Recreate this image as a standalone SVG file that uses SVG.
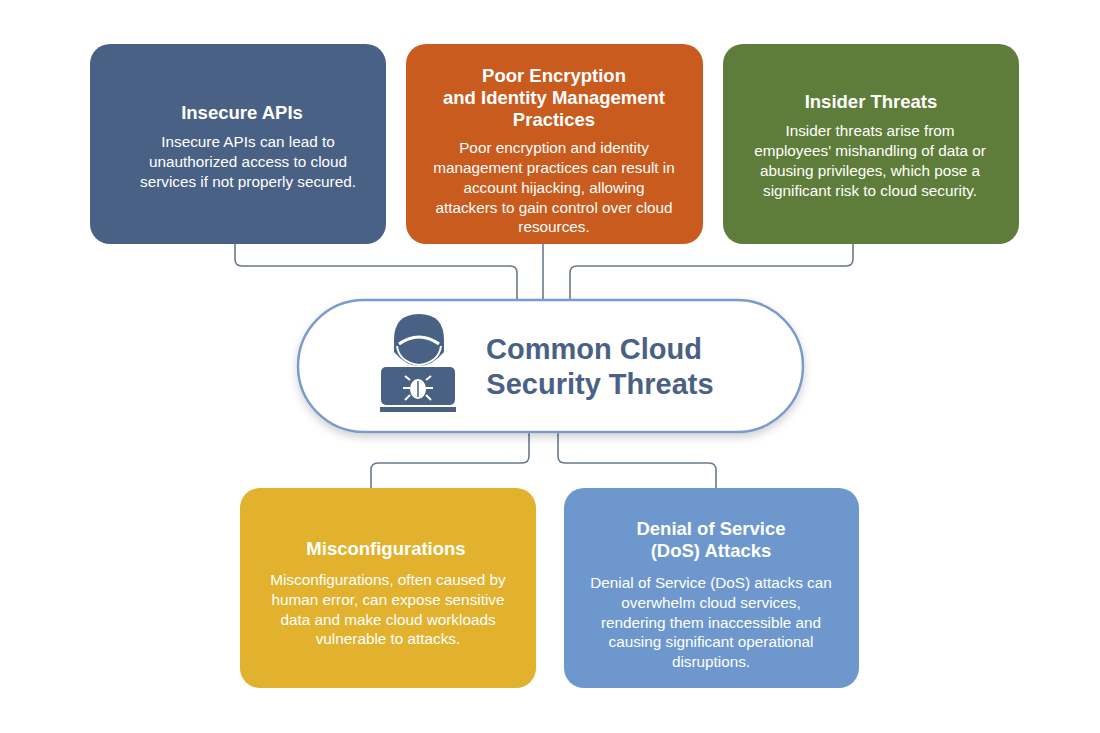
<svg xmlns="http://www.w3.org/2000/svg" width="1100" height="733" viewBox="0 0 1100 733">
<defs>
<style>
.box{stroke:none}
.t{font-family:"Liberation Sans",Arial,sans-serif;fill:#fff;text-anchor:middle}
.h{font-size:18.5px;font-weight:bold}
.b{font-size:15.3px}
.c{fill:none;stroke:#6b7a8c;stroke-width:1.6}
.m{font-family:"Liberation Sans",Arial,sans-serif;font-size:29px;font-weight:bold;fill:#4a6186;text-anchor:middle}
</style>
<filter id="sh" x="-10%" y="-20%" width="120%" height="150%"><feDropShadow dx="0" dy="4" stdDeviation="4" flood-color="#000" flood-opacity="0.18"/></filter>
</defs>
<rect width="1100" height="733" fill="#fff"/>
<g id="connectors">
<path class="c" d="M235 244V259Q235 266 242 266H510Q517 266 517 273V300"/>
<path class="c" d="M543 244V300"/>
<path class="c" d="M853 244V259Q853 266 846 266H577Q570 266 570 273V300"/>
<path class="c" d="M529 432V456Q529 463 522 463H378Q371 463 371 470V488"/>
<path class="c" d="M558 432V456Q558 463 565 463H709Q716 463 716 470V488"/>
</g>
<g id="insecure-apis">
<rect class="box" x="90" y="44" width="296" height="200" rx="20" fill="#4a6186"/>
<text class="t h" x="242" y="119">Insecure APIs</text>
<text class="t b"><tspan x="248" y="147">Insecure APIs can lead to</tspan><tspan x="248" y="167">unauthorized access to cloud</tspan><tspan x="248" y="187">services if not properly secured.</tspan></text>
</g>
<g id="poor-encryption">
<rect class="box" x="406" y="44" width="297" height="200" rx="20" fill="#c95b1e"/>
<text class="t h"><tspan x="554" y="82">Poor Encryption</tspan><tspan x="554" y="104">and Identity Management</tspan><tspan x="554" y="126">Practices</tspan></text>
<text class="t b"><tspan x="554" y="153">Poor encryption and identity</tspan><tspan x="554" y="173">management practices can result in</tspan><tspan x="554" y="193">account hijacking, allowing</tspan><tspan x="554" y="213">attackers to gain control over cloud</tspan><tspan x="554" y="232">resources.</tspan></text>
</g>
<g id="insider-threats">
<rect class="box" x="723" y="44" width="296" height="200" rx="20" fill="#5f7d3a"/>
<text class="t h" x="871" y="108">Insider Threats</text>
<text class="t b"><tspan x="870" y="136">Insider threats arise from</tspan><tspan x="870" y="156">employees' mishandling of data or</tspan><tspan x="870" y="176">abusing privileges, which pose a</tspan><tspan x="870" y="196">significant risk to cloud security.</tspan></text>
</g>
<g id="center">
<rect x="298" y="300" width="505" height="132" rx="66" fill="#fff" stroke="#7a9ccc" stroke-width="2.5" filter="url(#sh)"/>
<path d="M394 340Q394 314 419 314Q444 314 444 340V352Q432 366 419 366Q406 366 394 352Z" fill="#4a6186"/>
<path d="M399 344Q419 330 439 344" fill="none" stroke="#fff" stroke-width="3"/>
<path d="M397 346Q399 362 419 365Q439 362 441 346" fill="none" stroke="#fff" stroke-width="2"/>
<rect x="381" y="367" width="74" height="38" rx="5" fill="#4a6186"/>
<rect x="380" y="407" width="76" height="5" fill="#4a6186"/>
<g stroke="#fff" stroke-width="2" fill="none">
<ellipse cx="418" cy="389" rx="7" ry="9" fill="#fff"/>
<path d="M410 380l-5-4M426 380l5-4M410 388h-7M426 388h7M410 395l-5 5M426 395l5 5"/>
</g>
<line x1="418" y1="381" x2="418" y2="397" stroke="#4a6186" stroke-width="1.5"/>
<text class="m" x="594" y="359">Common Cloud</text>
<text class="m" x="600" y="394">Security Threats</text>
</g>
<g id="misconfigurations">
<rect class="box" x="240" y="488" width="296" height="200" rx="20" fill="#e2b22e"/>
<text class="t h" x="386" y="555">Misconfigurations</text>
<text class="t b"><tspan x="388" y="585">Misconfigurations, often caused by</tspan><tspan x="388" y="605">human error, can expose sensitive</tspan><tspan x="388" y="625">data and make cloud workloads</tspan><tspan x="388" y="644">vulnerable to attacks.</tspan></text>
</g>
<g id="dos">
<rect class="box" x="564" y="488" width="295" height="200" rx="20" fill="#6e98cd"/>
<text class="t h"><tspan x="711" y="535">Denial of Service</tspan><tspan x="711" y="557">(DoS) Attacks</tspan></text>
<text class="t b"><tspan x="711" y="588">Denial of Service (DoS) attacks can</tspan><tspan x="711" y="608">overwhelm cloud services,</tspan><tspan x="711" y="628">rendering them inaccessible and</tspan><tspan x="711" y="647">causing significant operational</tspan><tspan x="711" y="667">disruptions.</tspan></text>
</g>
</svg>
